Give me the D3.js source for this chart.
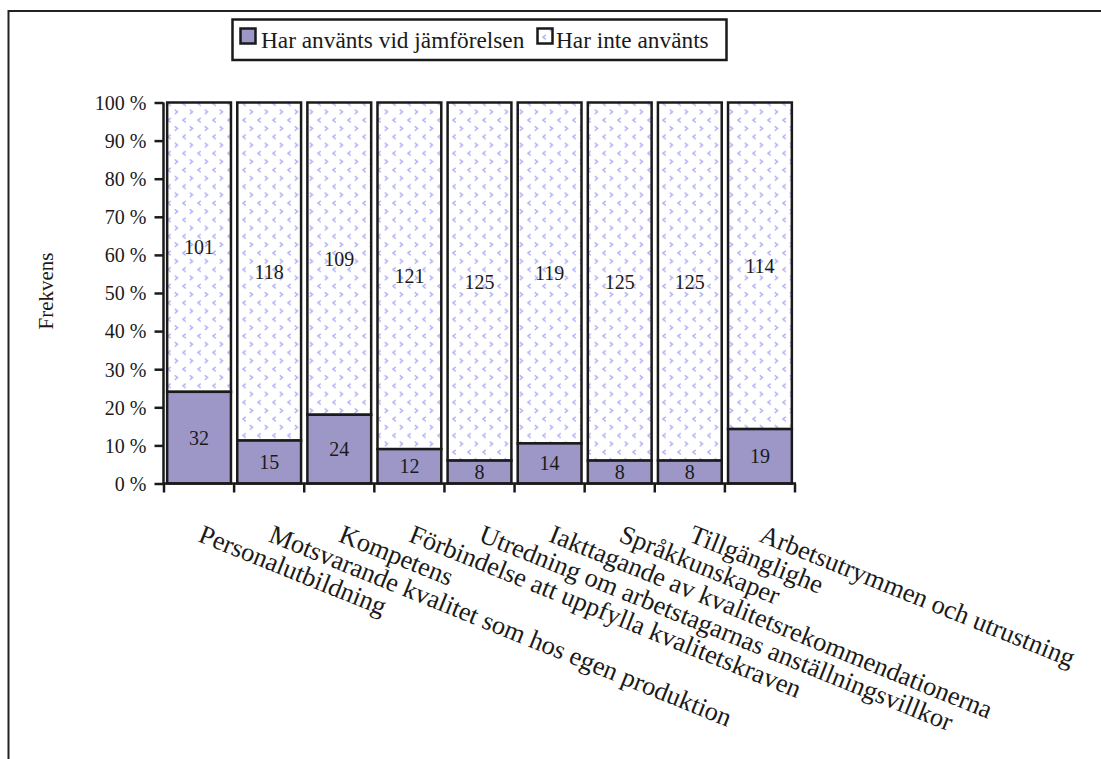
<!DOCTYPE html>
<html><head><meta charset="utf-8">
<script src="https://cdn.jsdelivr.net/npm/d3@7"></script>
<style>
html,body{margin:0;padding:0;background:#fff;}
svg{display:block;}
text{font-family:"Liberation Serif","Times New Roman",serif;fill:#1a1a1a;}
</style></head>
<body>
<svg id="c" width="1101" height="759"></svg>
<script>
const categories = [
  "Personalutbildning",
  "Motsvarande kvalitet som hos egen produktion",
  "Kompetens",
  "Förbindelse att uppfylla kvalitetskraven",
  "Utredning om arbetstagarnas anställningsvillkor",
  "Iakttagande av kvalitetsrekommendationerna",
  "Språkkunskaper",
  "Tillgänglighe",
  "Arbetsutrymmen och utrustning"
];
const usedValues = [32, 15, 24, 12, 8, 14, 8, 8, 19];
const notUsedValues = [101, 118, 109, 121, 125, 119, 125, 125, 114];
const seriesNames = ["Har använts vid jämförelsen", "Har inte använts"];
const yTicks = [0, 0.1, 0.2, 0.3, 0.4, 0.5, 0.6, 0.7, 0.8, 0.9, 1.0];
const yTickLabels = ["0 %", "10 %", "20 %", "30 %", "40 %", "50 %", "60 %", "70 %", "80 %", "90 %", "100 %"];
const yAxisTitle = "Frekvens";

const svg = d3.select("#c");
const ink = "#1a1a1a";
const purple = "#9d97c8";

// pattern
const defs = svg.append("defs");
const pat = defs.append("pattern").attr("id", "chev").attr("patternUnits", "userSpaceOnUse")
  .attr("width", 15).attr("height", 16.6);
pat.append("rect").attr("width", 15).attr("height", 16.6).attr("fill", "#fff");
const chevL = (x, y) => `M${x+1.8},${y-2.2} L${x-1.2},${y} L${x+1.8},${y+2.2}`;
const chevR = (x, y) => `M${x-1.8},${y-2.2} L${x+1.2},${y} L${x-1.8},${y+2.2}`;
[[chevL, 4, 4], [chevR, 11.5, 12.3]].forEach(([f, x, y]) => {
  pat.append("path").attr("d", f(x, y)).attr("fill", "none")
    .attr("stroke", "#8f8ff5").attr("stroke-width", 1.3).attr("opacity", 0.7);
});

// frame
svg.append("path").attr("d", "M8.5,759 L8.5,11 L1101,11").attr("fill", "none")
  .attr("stroke", "#222").attr("stroke-width", 2);

// scales
const x = d3.scaleBand().domain(categories).range([164, 795]).paddingInner(0.09).paddingOuter(0.045);
const y = d3.scaleLinear().domain([0, 1]).range([483.5, 102.5]);

const data = categories.map((c, i) => {
  const tot = usedValues[i] + notUsedValues[i];
  return { c, used: usedValues[i], not: notUsedValues[i], pu: usedValues[i] / tot };
});

const g = svg.append("g");
g.selectAll("rect.not").data(data).join("rect").attr("class", "not")
  .attr("x", d => x(d.c)).attr("width", x.bandwidth())
  .attr("y", y(1)).attr("height", d => y(d.pu) - y(1))
  .attr("fill", "url(#chev)").attr("stroke", ink).attr("stroke-width", 2.5);
g.selectAll("rect.used").data(data).join("rect").attr("class", "used")
  .attr("x", d => x(d.c)).attr("width", x.bandwidth())
  .attr("y", d => y(d.pu)).attr("height", d => y(0) - y(d.pu))
  .attr("fill", purple).attr("stroke", ink).attr("stroke-width", 2.5);

// value labels
g.selectAll("text.vu").data(data).join("text").attr("class", "vu")
  .attr("x", d => x(d.c) + x.bandwidth() / 2)
  .attr("y", d => (y(0) + y(d.pu)) / 2 + 7)
  .attr("text-anchor", "middle").attr("font-size", 20).text(d => d.used);
g.selectAll("text.vn").data(data).join("text").attr("class", "vn")
  .attr("x", d => x(d.c) + x.bandwidth() / 2)
  .attr("y", d => (y(1) + y(d.pu)) / 2 + 7)
  .attr("text-anchor", "middle").attr("font-size", 20).text(d => d.not);

// y axis
const yAxis = d3.axisLeft(y).tickValues(yTicks).tickSize(9).tickPadding(8)
  .tickFormat((d, i) => yTickLabels[i]);
const ya = svg.append("g").attr("transform", "translate(163.5,0)").call(yAxis);
ya.select(".domain").attr("stroke", ink).attr("stroke-width", 2.5).attr("d", `M0,${y(1)}V${y(0)}`);
ya.selectAll(".tick line").attr("stroke", ink).attr("stroke-width", 2.5);
ya.selectAll(".tick text").attr("font-size", 20).attr("fill", ink).attr("dy", "0.34em");

// x axis
const xa = svg.append("g").attr("transform", `translate(0,${y(0)})`);
xa.append("line").attr("x1", 163).attr("x2", 796).attr("stroke", ink).attr("stroke-width", 2.5);
const bounds = d3.range(categories.length + 1).map(i => x.range()[0] + i * x.step() / (1 - 0) * 1);
const bw = (x.range()[1] - x.range()[0]) / categories.length;
const bnd = d3.range(categories.length + 1).map(i => x.range()[0] + i * bw);
xa.selectAll("line.tk").data(bnd).join("line").attr("class", "tk")
  .attr("x1", d => d).attr("x2", d => d).attr("y1", 0).attr("y2", 9)
  .attr("stroke", ink).attr("stroke-width", 2.5);

// x labels
svg.append("g").selectAll("text").data(categories).join("text")
  .attr("transform", d => `translate(${x(d) + x.bandwidth() / 2 - 2},541) rotate(22)`)
  .attr("text-anchor", "start").attr("font-size", 26.4).text(d => d);

// y title
svg.append("text").attr("transform", "translate(53,291) rotate(-90)")
  .attr("text-anchor", "middle").attr("font-size", 21).text(yAxisTitle);

// legend
const lg = svg.append("g");
lg.append("rect").attr("x", 232.5).attr("y", 19.5).attr("width", 494).attr("height", 40.5)
  .attr("fill", "#fff").attr("stroke", ink).attr("stroke-width", 2.5);
const legItems = [
  { name: seriesNames[0], fill: purple, sx: 240.5, tx: 261 },
  { name: seriesNames[1], fill: "url(#chev)", sx: 537.5, tx: 556 }
];
legItems.forEach(it => {
  lg.append("rect").attr("x", it.sx).attr("y", 28.5).attr("width", 15).attr("height", 15)
    .attr("fill", it.fill).attr("stroke", ink).attr("stroke-width", 2.5);
  lg.append("text").attr("x", it.tx).attr("y", 47.5).attr("font-size", 23.3).text(it.name);
});
</script>
</body></html>
